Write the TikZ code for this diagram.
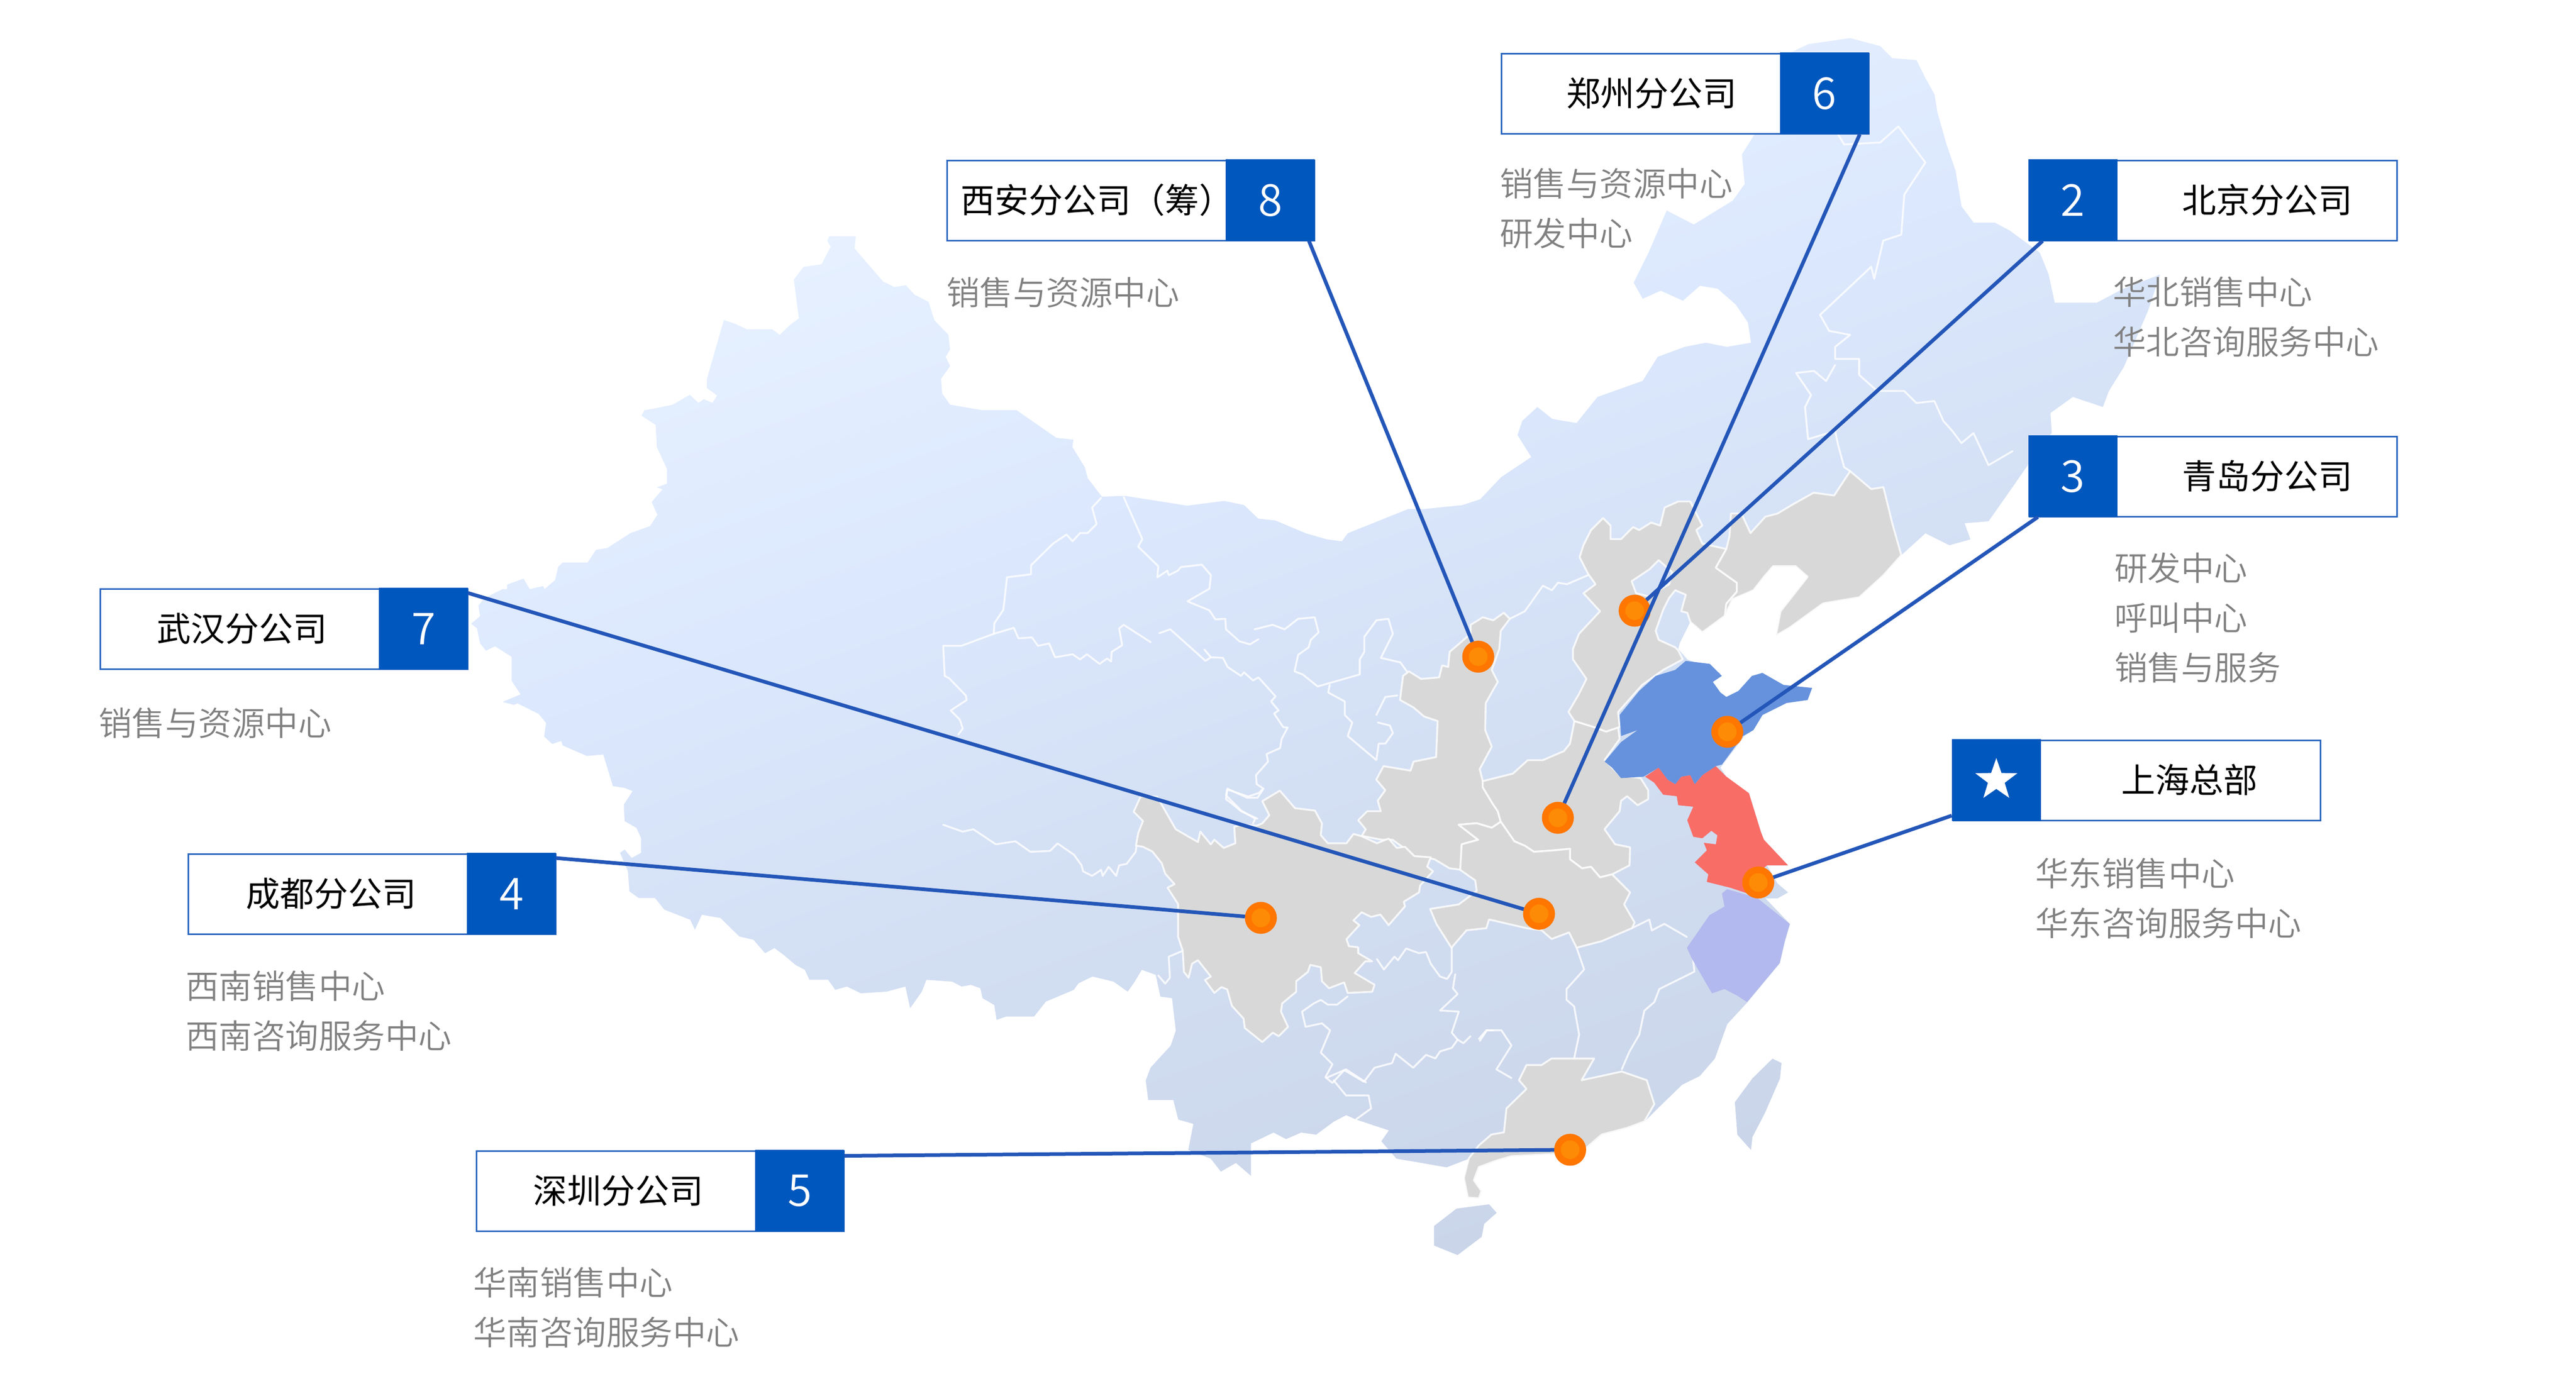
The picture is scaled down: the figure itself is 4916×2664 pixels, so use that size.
\documentclass[tikz,border=0pt]{standalone}
\usepackage{fontspec}
\usetikzlibrary{shapes.geometric}
\setmainfont{Noto Sans CJK SC}
\newfontfamily\lightcjk{Noto Sans CJK SC DemiLight}
\definecolor{mapa}{HTML}{F2F8FF}
\definecolor{mapb}{HTML}{E6F0FF}
\definecolor{mapm}{HTML}{DCE8FD}
\definecolor{mapd}{HTML}{D3DFF3}
\definecolor{mapc}{HTML}{C9D4E8}
\pgfdeclareverticalshading{mapfill}{100bp}{color(0bp)=(mapc); color(25bp)=(mapc); color(45bp)=(mapd); color(58bp)=(mapm); color(70bp)=(mapb); color(76bp)=(mapa); color(100bp)=(mapa)}
\definecolor{grayprov}{HTML}{D8D8D8}
\definecolor{sdblue}{HTML}{6692DD}
\definecolor{jsred}{HTML}{F96D67}
\definecolor{zjviolet}{HTML}{B2B9EE}
\definecolor{boxblue}{HTML}{0057BD}
\definecolor{boxline}{HTML}{2A66BF}
\definecolor{conn}{HTML}{2356B8}
\definecolor{dotout}{HTML}{FF7600}
\definecolor{dotin}{HTML}{FD8B05}
\definecolor{capt}{HTML}{808080}
\tikzset{
 disp/.style={x=3.1352pt,y=-3.1352pt},
 zb/.style={shift={(2400pt,-50pt)},x=1.148pt,y=-.7653pt},
 zc/.style={shift={(2100pt,-1200pt)},x=.9566pt,y=-.829pt},
 ze/.style={shift={(2600pt,-900pt)},x=.574pt,y=-.574pt},
 zf/.style={shift={(2150pt,-1400pt)},x=.4464pt,y=-.4464pt},
 zg/.style={shift={(1800pt,-900pt)},x=.574pt,y=-.574pt},
 prov/.style={draw=white,draw opacity=.8,line width=3.6pt,line join=round,line cap=round},
 grayp/.style={fill=grayprov,prov},
 colp/.style={line join=round},
 whitebox/.style={draw=boxline,line width=3pt,fill=white,minimum width=701pt,minimum height=153pt,anchor=north west,inner sep=0pt},
 bluebox/.style={fill=boxblue,minimum width=170pt,minimum height=156pt,anchor=north west,inner sep=0pt,text=white,font=\lightcjk\fontsize{84}{84}\selectfont},
 title/.style={inner sep=0pt,text=black,font=\fontsize{65}{65}\selectfont},
 capnode/.style={inner sep=0pt,anchor=west,align=left,text=capt,font=\lightcjk\fontsize{63.5}{95}\selectfont},
 dotn/.style={circle,draw=dotout,fill=dotin,line width=12.5pt,minimum size=48.5pt,inner sep=0pt},
 link/.style={draw=conn,line width=7pt}
}
\begin{document}
\begin{tikzpicture}[x=1pt,y=-1pt]
\useasboundingbox (0,0) rectangle (4916,2664);
% map ground
\begin{scope}[disp]
\shade[shading=mapfill,shading angle=20]
 plot coordinates {(504.6,143.9)(520.9,143.9)(520.2,151.3)(537.5,171.4)(544.4,174.8)(551.4,173.7)(556.5,179.3)(565.2,183.8)(568.7,194.9)(577.3,203.9)(578.3,212.8)(575.6,217.3)(578.3,222.9)(572.8,230.7)(573.5,239.7)(578.3,246.4)(598.1,249.8)(618.8,249.8)(643,266.6)(653.4,267.7)(652.7,272.1)(660.3,284.5)(662.1,291.2)(670.7,302.4)(684.6,301.9)(722.6,307.9)(745.1,305)(757.2,307.5)(765.9,315.8)(776.3,316.9)(794.8,324.7)(807.6,328.4)(816.8,329.6)(820.4,324.7)(857,310)(866.2,310)(890,307.6)(901,304)(913.8,290.5)(932.1,278.3)(923.7,264.9)(926.6,256.3)(935.8,247.8)(944.9,255.1)(959.6,257.6)(972.4,241.7)(999.9,231.9)(1009,217.3)(1025.5,211.2)(1038.3,208.7)(1051.1,211.2)(1065.8,208.7)(1064,196.5)(1056.6,185.5)(1045.6,175.8)(1034.7,174)(1024.4,183.1)(1010.9,177)(999.9,181.9)(994.4,172.1)(1003.5,153.8)(1014.5,128.2)(1031,136.7)(1054.8,122.1)(1062,112)(1060.3,94)(1069.5,79.4)(1073.1,52.5)(1080.4,36.6)(1100.6,26.9)(1126.2,23.2)(1144.5,28.1)(1151.8,35.4)(1166.5,36.6)(1172,47.6)(1177.5,57.4)(1179.3,68.4)(1184.8,87.9)(1190.3,103.8)(1194,125.7)(1201.3,135.5)(1214.1,135.5)(1223.3,140.4)(1241.6,153.8)(1247,167.2)(1250.7,184.3)(1276.4,184.3)(1292,176)(1314.8,167.2)(1307.5,189.2)(1292.8,223.4)(1283.7,238)(1280,247.8)(1261.7,241.7)(1248.1,251.5)(1248.9,263.7)(1240,275)(1225,296.6)(1210.4,317.4)(1195.8,318.6)(1199.4,328.4)(1186.6,332)(1172,324.7)(1157.3,338.1)(1146.4,350.3)(1131.7,363.7)(1109.7,367.4)(1089.6,382)(1081,387)(1083.8,372.2)(1100.3,351.2)(1093,344.8)(1079.2,344.8)(1073.7,351.2)(1067.3,359.4)(1054.5,364.9)(1050,375)(1036.2,385)(1028.9,378.6)(1022.5,391.5)(1021.5,395.1)(1027,401.5)(1047.2,409.8)(1042.6,415.3)(1047.2,421.7)(1050.8,424.4)(1058.2,420.8)(1066.4,411.6)(1072.8,409.8)(1085.6,417.1)(1103,418.9)(1100.3,426.3)(1087.5,428.1)(1072.8,435.4)(1067.3,444.6)(1061.8,448.2)(1047.2,467.4)(1050.8,473)(1064.6,483)(1072,506.8)(1073.7,511.4)(1088.4,527)(1075.6,527)(1082,538)(1088.4,543.4)(1082,547)(1074.6,547)(1089.6,562.7)(1086.5,573.2)(1083.4,586.5)(1063.6,610.3)(1051.4,623.5)(1043.8,644.6)(1034.6,655.2)(1023.9,660.5)(1010.2,673.8)(1001,683)(990.4,687)(975.1,691)(965.9,698.9)(960,705.5)(946.1,702.9)(920.2,704.2)(911,706.8)(900.3,710.8)(897.3,718.7)(901.9,725.3)(900.3,729.8)(893.6,729.3)(891.2,717.4)(894.2,705.5)(880.5,710.8)(865.2,708.1)(850,705.5)(840.8,694.9)(845.4,688.3)(825.5,681.7)(819.4,679)(811.8,683)(801.1,690.9)(792,689.6)(782.8,693.6)(775.2,689.6)(761.5,696.2)(761.5,716)(752.3,708.1)(743.1,713.4)(737,705.5)(723.3,700.2)(726.4,684.3)(717.2,681.7)(714.2,669.8)(698.9,669.8)(697.4,657.9)(700.4,650)(712.6,636.7)(715.7,627.5)(713.4,607.8)(706.3,606.8)(703.5,593.6)(695,590.5)(690.7,597.7)(686.4,603.8)(677.8,597.7)(665,594.6)(656.5,598.7)(653.6,602.7)(636.6,609.9)(629.4,619)(612.3,619)(606.6,621)(605.2,611.9)(598.1,607.8)(596.7,601.7)(591,599.7)(585.3,600.7)(579.6,597.7)(563.9,596.6)(561.1,603.8)(554,613.9)(551.1,600.7)(539.7,603.8)(524,604.8)(515.5,600.7)(508.4,602.7)(504.1,596.6)(492.7,596.6)(489.9,590.5)(484.2,587.5)(477,581.4)(471.4,577.3)(465.7,580.4)(458.6,572.2)(450,570.2)(438.6,559)(427.2,557)(423,566.1)(420.1,560)(404.4,553.9)(398.7,546.8)(388.8,546.8)(383.1,542.7)(382.2,530.5)(377.4,519.3)(380.2,517.3)(384.5,522.4)(390.2,519.3)(390.2,510.2)(387.4,504.1)(380.2,500)(379.7,489.9)(385.1,481.7)(380,479.7)(373.1,478.7)(367.2,459.4)(357.2,460.3)(342.5,453.9)(341.6,451.2)(336.1,453)(331.2,448.4)(332.4,440.2)(327.9,434.7)(315,428.3)(312.8,429.2)(305.9,427.4)(316.9,422.8)(311.4,414.5)(311.4,399.9)(301.3,393.5)(295.8,396.2)(292.2,391.7)(290.3,382.5)(286.7,379.8)(292.2,375.2)(291.2,368.8)(294.9,364.2)(305.9,358.7)(308.6,358.7)(308.6,356)(318.7,352.3)(322.4,358.7)(330.6,356.9)(331.5,358.7)(337.9,353.2)(339.8,345)(342.5,342.6)(357.6,342.6)(362.8,334.8)(369.7,333.7)(383.6,324.7)(395.7,320.3)(400.2,313.5)(396.7,305.7)(403.3,297.9)(399.8,296.8)(406,294.5)(406,285.6)(399.8,272.1)(399.1,258.7)(390.5,253.1)(392.2,249.8)(399.1,248.6)(409.5,246.4)(419.9,240.4)(425.1,245.3)(428.5,243.1)(433.7,245.3)(436.5,240.8)(430.3,236.3)(430.3,230.7)(440.6,194.9)(447.6,197.2)(454.5,200.5)(470,200.5)(474.6,203.9)(480.4,198.3)(486.3,193.8)(483.2,170.3)(489.1,162.5)(500.1,160.9)(505.7,150.2)(503.6,146.8)} -- cycle
 plot coordinates {(872.9,746.5)(886.6,735.9)(906.4,733.3)(911,738.5)(903.4,745.2)(901.9,753.1)(887.2,764.2)(872.9,758.4)} -- cycle
 plot coordinates {(1078.9,644.6)(1084.4,647.3)(1083.5,656.6)(1074.3,677.7)(1066.7,692.3)(1065.8,700.2)(1057.5,690.9)(1056,671.1)(1066.7,656.6)} -- cycle;
\end{scope}
% provincial borders, upper west and centre
\begin{scope}[zg]
\draw[prov] plot coordinates {(525,88)(495,120)(510,175)(480,205)(455,205)(430,232)(410,210)(365,240)(292,312)(292,342)(212,352)(200,460)(170,505)(168,540)(60,580)(0,580)(5,680)};
\draw[prov] plot coordinates {(168,540)(235,520)(250,555)(295,552)(315,580)(352,572)(372,618)(430,608)(455,625)(478,608)(520,640)(545,622)(558,632)(560,600)(595,578)(585,522)(600,510)(690,568)};
\draw[prov] plot coordinates {(5,680)(20,688)(75,745)(78,760)(25,795)(55,825)(65,855)(50,875)};
\draw[prov] plot coordinates {(600,85)(662,225)(648,250)(715,315)(712,352)(745,330)(750,345)(780,330)(790,318)(860,310)(890,345)(885,390)(812,432)(885,462)(905,492)(938,490)(940,525)(985,565)(1020,575)(1048,558)};
\draw[prov] plot coordinates {(718,538)(755,525)(872,630)(890,618)(868,592)};
\draw[prov] plot coordinates {(890,618)(930,620)(945,650)(990,680)(1000,668)(1030,695)(1048,685)(1105,748)(1090,765)(1115,795)(1100,805)(1130,850)(1145,852)(1125,890)(1120,920)(1075,940)(1080,965)(1040,1010)(1042,1040)(1065,1055)(1045,1085)(1010,1085)(945,1055)(940,1090)(960,1105)(990,1130)(1045,1155)};
\draw[prov] plot coordinates {(1035,525)(1095,510)(1135,525)(1180,490)(1235,485)(1248,535)(1222,560)(1215,585)(1180,610)(1168,665)(1195,675)(1245,715)(1385,675)(1385,625)(1400,600)(1400,550)(1440,495)(1480,490)(1495,540)(1455,620)(1520,635)(1545,670)};
\draw[prov] plot coordinates {(1285,710)(1280,735)(1335,765)(1335,810)(1360,835)(1345,880)(1440,960)(1448,905)(1470,905)(1495,870)(1485,845)(1445,835)};
\draw[prov] plot coordinates {(1440,810)(1470,750)(1510,745)};
\draw[prov] plot coordinates {(0,1175)(65,1198)(100,1190)(175,1240)(240,1230)(290,1265)(355,1262)(380,1237)(435,1275)(460,1310)(465,1330)(495,1345)(525,1325)(530,1345)(550,1315)(575,1345)(585,1310)(610,1305)(640,1265)(645,1225)};
\end{scope}
% provincial borders, south
\begin{scope}[zf]
\draw[prov] plot coordinates {(945,1125)(900,1160)(860,1160)(830,1140)(800,1155)(750,1190)(765,1255)(835,1240)(870,1270)(830,1365)(880,1415)(850,1470)(880,1495)(930,1440)(1015,1490)(1060,1430)(1135,1410)(1150,1370)(1225,1430)(1280,1375)(1320,1390)(1340,1360)(1390,1345)(1415,1310)(1440,1325)(1470,1295)};
\draw[prov] plot coordinates {(1510,1315)(1540,1270)(1568,1270)};
\draw[prov] plot coordinates {(1405,1030)(1395,1090)(1415,1115)(1340,1185)(1420,1190)(1390,1280)(1415,1310)};
\draw[prov] plot coordinates {(1070,965)(1100,1010)(1145,955)(1160,970)(1195,920)(1250,940)(1280,935)(1300,985)(1340,1040)(1370,1050)(1390,1020)(1390,915)};
\draw[prov] plot coordinates {(240,930)(180,955)(185,1045)(165,1070)(135,1035)};
\draw[prov] plot coordinates {(430,240)(520,270)(565,255)(580,240)};
\draw[prov] plot coordinates {(430,240)(425,265)(470,310)(490,330)(550,365)(540,385)};
\end{scope}
\begin{scope}[zc]
\draw[prov] plot coordinates {(950,735)(965,785)(930,830)(930,855)(945,870)(955,935)(945,990)};
\draw[prov] plot coordinates {(1180,735)(1185,790)(1115,830)(1105,860)(1085,880)(1075,935)(1055,975)(1040,1015)};
\draw[prov] plot coordinates {(1060,690)(1095,670)(1100,695)(1125,680)(1170,710)};
\draw[prov] plot coordinates {(755,945)(770,925)(800,925)(820,960)(790,1015)(820,1035)};
\draw[prov] plot coordinates {(465,1040)(490,1075)(535,1075)(540,1105)(510,1130)};
\draw[prov] plot coordinates {(450,1035)(490,1015)(530,1045)};
\end{scope}
% north east borders
\begin{scope}[zb]
\draw[prov] plot coordinates {(965,270)(975,295)(1035,290)(1065,250)(1100,320)(1110,340)(1075,420)(1070,520)(1040,535)(1025,630)(1020,600)(935,720)(950,760)(985,770)(960,800)(960,830)(1000,830)(1000,870)(1030,910)(1075,910)(1095,940)(1125,935)(1140,985)(1155,1010)(1170,1040)(1190,1015)(1215,1095)(1255,1060)};
\draw[prov] plot coordinates {(1030,910)(960,1010)(915,1030)(910,950)(920,920)(895,865)(925,860)(945,885)(960,845)};
\draw[prov] plot coordinates {(960,1010)(965,1045)(975,1100)(985,1110)};
\end{scope}
% grey provinces
\begin{scope}[ze]
\draw[prov] plot coordinates {(490,490)(540,465)(600,380)(630,395)(650,370)(680,375)(750,345)};
\path[grayp] plot coordinates {(360,510)(400,485)(435,495)(470,470)(490,490)(460,530)(455,590)(430,660)(450,700)(410,770)(408,860)(430,915)(390,990)(400,1030)(400,1050)(430,1100)(450,1130)(460,1165)(430,1185)(380,1170)(320,1175)(385,1225)(330,1240)(330,1325)(290,1320)(240,1290)(215,1285)(170,1280)(135,1250)(100,1225)(65,1225)(-2,1212)(11,1190)(-14,1160)(16,1130)(61,1130)(51,1095)(76,1060)(46,1025)(70,980)(160,995)(170,965)(245,950)(250,830)(205,815)(170,785)(125,760)(135,680)(155,665)(195,690)(255,685)(265,645)(285,650)(290,600)(360,540)} -- cycle;
\path[grayp] plot coordinates {(400,1030)(500,1005)(550,960)(600,960)(670,930)(690,905)(705,830)(770,850)(810,865)(850,850)(855,890)(805,960)(855,1010)(925,1020)(950,1060)(950,1090)(915,1110)(880,1080)(860,1095)(855,1130)(805,1190)(840,1240)(890,1250)(888,1310)(830,1340)(790,1350)(760,1315)(730,1320)(690,1290)(690,1255)(640,1260)(570,1265)(540,1245)(505,1230)(460,1165)(450,1130)(430,1100)(400,1050)} -- cycle;
\path[grayp] plot coordinates {(320,1175)(380,1170)(430,1185)(460,1165)(505,1230)(540,1245)(570,1265)(640,1260)(690,1255)(690,1290)(730,1320)(760,1315)(790,1350)(830,1340)(890,1400)(870,1440)(905,1500)(896,1519)(796,1562)(712,1584)(687,1533)(629,1555)(596,1526)(546,1519)(421,1490)(412,1519)(346,1526)(296,1584)(246,1505)(225,1455)(320,1440)(380,1395)(375,1360)(325,1325)(330,1240)(385,1225)} -- cycle;
\path[grayp,even odd rule] plot coordinates {(735,245)(760,195)(800,155)(825,180)(825,225)(860,225)(900,185)(920,195)(960,170)(990,180)(1005,120)(1050,100)(1090,100)(1130,180)(1110,195)(1130,240)(1210,258)(1175,320)(1245,370)(1245,400)(1210,440)(1205,480)(1130,535)(1090,500)(1080,470)(1060,465)(1075,410)(1040,395)(1020,420)(1000,460)(975,530)(985,560)(1040,585)(1050,595)(1065,625)(1000,660)(930,710)(850,800)(855,850)(810,865)(770,850)(705,830)(685,800)(720,740)(745,690)(700,625)(700,590)(720,540)(790,465)(735,405)(775,375)(750,340)(722,285)} -- cycle
 plot coordinates {(895,365)(955,325)(985,295)(1030,335)(1020,375)(950,415)(910,405)} -- cycle;
\end{scope}
\begin{scope}[zf]
\path[grayp] plot coordinates {(60,270)(130,270)(210,410)(305,465)(315,420)(360,475)(375,455)(415,490)(465,470)(460,400)(490,390)(555,395)(580,385)(610,350)(580,290)(655,245)(720,320)(805,330)(835,385)(830,435)(860,470)(940,470)(970,430)(1005,440)(1070,470)(1120,450)(1155,490)(1190,485)(1230,525)(1300,530)(1285,570)(1310,590)(1255,650)(1250,680)(1185,720)(1190,740)(1120,820)(1085,775)(1045,785)(1005,765)(970,800)(995,820)(940,880)(950,910)(990,915)(990,940)(1050,975)(1020,975)(975,1025)(1060,1075)(1050,1105)(945,1110)(930,1065)(865,1090)(835,1060)(830,1000)(785,990)(775,1020)(725,1060)(725,1105)(665,1155)(660,1190)(690,1255)(650,1295)(625,1280)(580,1320)(505,1260)(500,1220)(450,1165)(430,1095)(405,1085)(375,1110)(335,1055)(360,1040)(305,970)(280,985)(265,1045)(245,1020)(240,930)(220,870)(220,730)(175,660)(205,645)(165,600)(150,555)(110,505)(70,485)(40,480)(50,425)(70,375)(30,335)} -- cycle;
\end{scope}
\begin{scope}[disp]
\path[grayp] plot coordinates {(1050.8,334.3)(1052.7,326.5)(1053.6,312.7)(1060,312.7)(1065.5,324.6)(1074.6,314.6)(1082,312.7)(1091.1,307.2)(1104,300)(1116.4,301.7)(1126.2,286.9)(1139,297.8)(1146.4,296.6)(1151.8,318.6)(1157.3,338.1)(1146.4,350.3)(1131.7,363.7)(1109.7,367.4)(1089.6,382)(1081,387)(1083.8,372.2)(1100.3,351.2)(1093,344.8)(1079.2,344.8)(1073.7,351.2)(1067.3,359.4)(1054.5,364.9)(1050,375)(1050.8,367.7)(1057.2,360.3)(1057.2,354.8)(1044.4,345.7)} -- cycle;
\end{scope}
\begin{scope}[zc]
\path[grayp] plot coordinates {(850,1005)(880,1005)(900,990)(945,990)(985,990)(960,1040)(1040,1020)(1090,1040)(1105,1095)(1085,1135)(1050,1150)(1000,1165)(970,1195)(950,1220)(905,1210)(820,1215)(790,1225)(755,1240)(745,1270)(760,1295)(755,1312)(733,1310)(725,1265)(735,1220)(755,1190)(780,1165)(805,1160)(810,1105)(850,1060)(835,1040)} -- cycle;
\path[fill=zjviolet,colp] plot coordinates {(1240,610)(1250,600)(1310,620)(1375,680)(1365,720)(1355,770)(1290,860)(1270,845)(1245,830)(1220,840)(1205,810)(1180,760)(1170,735)(1215,660)(1245,640)} -- cycle;
\end{scope}
\begin{scope}[ze]
\path[fill=jsred,colp] plot coordinates {(940,1015)(985,985)(1015,1025)(1040,1040)(1060,1015)(1090,1010)(1105,1040)(1130,1010)(1175,980)(1210,1015)(1285,1070)(1325,1200)(1335,1225)(1415,1310)(1345,1310)(1320,1330)(1300,1410)(1225,1385)(1145,1365)(1150,1340)(1105,1300)(1145,1260)(1135,1235)(1175,1240)(1180,1210)(1160,1195)(1130,1220)(1100,1215)(1080,1160)(1100,1115)(1050,1110)(1045,1080)(1000,1075)(970,1035)} -- cycle;
\path[fill=sdblue,colp] plot coordinates {(1075,630)(1155,640)(1195,680)(1165,700)(1190,735)(1210,750)(1250,730)(1295,680)(1330,670)(1400,710)(1495,720)(1480,760)(1410,770)(1330,810)(1300,860)(1265,880)(1195,975)(1175,980)(1130,1010)(1105,1040)(1090,1010)(1060,1015)(1040,1040)(1015,1025)(985,985)(935,1015)(860,1020)(830,985)(805,965)(860,900)(915,860)(860,880)(855,810)(920,730)(975,680)(1040,660)} -- cycle;
\end{scope}
% boxes
\node[whitebox] (box8) at (1806,305) {};
\node[bluebox] (num8) at (2339,304) {8};
\node[title] (t8) at (2093,382) {西安分公司（筹）};
\node[whitebox] (box6) at (2863.5,101) {};
\node[bluebox] (num6) at (3396.5,100) {6};
\node[title] (t6) at (3152,178) {郑州分公司};
\node[whitebox] (box2) at (3871.5,305) {};
\node[bluebox] (num2) at (3870.5,304) {2};
\node[title] (t2) at (4327,382) {北京分公司};
\node[whitebox] (box3) at (3871.5,832) {};
\node[bluebox] (num3) at (3870.5,831) {3};
\node[title] (t3) at (4327,909) {青岛分公司};
\node[whitebox] (box1) at (3725.5,1412) {};
\node[bluebox] (num1) at (3724.5,1411) {};
\node[star,star points=5,star point ratio=2.5,fill=white,minimum size=84pt,inner sep=0pt] (star1) at (num1.center) {};
\node[title] (t1) at (4178,1489) {上海总部};
\node[whitebox] (box7) at (190,1123) {};
\node[bluebox] (num7) at (723,1122) {7};
\node[title] (t7) at (462,1200) {武汉分公司};
\node[whitebox] (box4) at (358,1629) {};
\node[bluebox] (num4) at (891,1628) {4};
\node[title] (t4) at (632,1706) {成都分公司};
\node[whitebox] (box5) at (908,2196) {};
\node[bluebox] (num5) at (1441,2195) {5};
\node[title] (t5) at (1180,2273) {深圳分公司};
% dots
\node[dotn] (dot8) at (2821,1253.6) {};
\node[dotn] (dot2) at (3119.5,1165.8) {};
\node[dotn] (dot6) at (2973,1561.2) {};
\node[dotn] (dot3) at (3296.3,1397) {};
\node[dotn] (dot1) at (3355.4,1684.7) {};
\node[dotn] (dot7) at (2937,1744.4) {};
\node[dotn] (dot4) at (2406.2,1752.2) {};
\node[dotn] (dot5) at (2996.4,2194.9) {};
% connector ends on the boxes
\coordinate (s8) at (2498,460);
\coordinate (s6) at (3549,256.6);
\coordinate (s2) at (3898,460);
\coordinate (s3) at (3889,987);
\coordinate (s1) at (3724.6,1557);
\coordinate (s7) at (893,1132);
\coordinate (s4) at (1060.7,1638);
\coordinate (s5) at (1611,2206.5);
\draw[link] (s8) -- (dot8);
\draw[link] (s2) -- (dot2);
\draw[link] (s6) -- (dot6);
\draw[link] (s3) -- (dot3);
\draw[link] (s1) -- (dot1);
\draw[link] (s7) -- (dot7);
\draw[link] (s4) -- (dot4);
\draw[link] (s5) -- (dot5);
% captions
\node[capnode] (c8) at (1806,558) {销售与资源中心};
\node[capnode] (c6) at (2862,398) {销售与资源中心\\研发中心};
\node[capnode] (c2) at (4032,605) {华北销售中心\\华北咨询服务中心};
\node[capnode] (c3) at (4035,1179) {研发中心\\呼叫中心\\销售与服务};
\node[capnode] (c1) at (3884,1715) {华东销售中心\\华东咨询服务中心};
\node[capnode] (c7) at (188,1380) {销售与资源中心};
\node[capnode] (c4) at (354,1930) {西南销售中心\\西南咨询服务中心};
\node[capnode] (c5) at (903,2496) {华南销售中心\\华南咨询服务中心};
\end{tikzpicture}
\end{document}
